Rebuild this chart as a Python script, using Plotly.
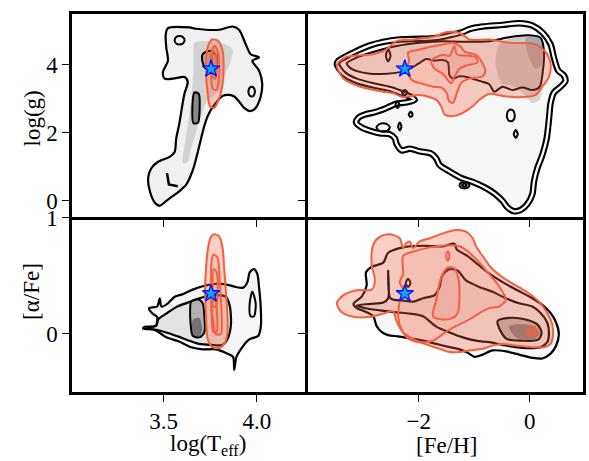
import plotly.graph_objects as go
from plotly.subplots import make_subplots

# ---------------- log(Teff) vs log(g) ----------------
TL_OUTER_X = [3.523, 3.638, 3.674, 3.798, 3.869, 3.904, 3.940, 3.966, 4.011, 3.975, 4.011, 4.028, 4.020, 3.993,
              3.966, 3.931, 3.904, 3.878, 3.851, 3.816, 3.780, 3.754, 3.736, 3.718, 3.700, 3.683, 3.665, 3.647,
              3.621, 3.585, 3.550, 3.514, 3.479, 3.452, 3.426, 3.417, 3.434, 3.470, 3.532, 3.559, 3.567, 3.585,
              3.599, 3.612, 3.629, 3.612, 3.550, 3.505, 3.496, 3.523, 3.514, 3.511]
TL_OUTER_Y = [5.074, 5.094, 5.055, 5.026, 5.122, 5.026, 4.595, 4.307, 4.211, 4.115, 3.827, 3.444, 3.060, 2.724,
              2.628, 2.724, 2.916, 3.060, 3.108, 3.079, 2.868, 2.676, 2.484, 2.197, 1.813, 1.429, 1.046, 0.758,
              0.470, 0.278, 0.134, -0.010, -0.154, -0.058, 0.278, 0.662, 0.950, 1.141, 1.285, 1.429, 1.813, 2.293,
              2.772, 3.156, 3.492, 3.635, 3.588, 3.588, 3.779, 4.115, 4.499, 4.882]
TL_INNER_X = [3.665, 3.745, 3.833, 3.869, 3.860, 3.833, 3.816, 3.762, 3.727, 3.700, 3.674, 3.647, 3.629, 3.603,
              3.612, 3.629, 3.642, 3.652, 3.660, 3.661]
TL_INNER_Y = [4.643, 4.691, 4.595, 4.451, 4.115, 3.731, 3.348, 3.060, 2.868, 2.484, 2.005, 1.525, 1.141, 1.094,
              1.621, 2.197, 2.772, 3.252, 3.923, 4.403]
TL_CLUMP_X = [3.665, 3.688, 3.693, 3.684, 3.660, 3.654]
TL_CLUMP_Y = [3.185, 3.137, 2.772, 2.293, 2.273, 2.772]
TL_CORE_X = [3.709, 3.754, 3.789, 3.780, 3.727, 3.709]
TL_CORE_Y = [4.307, 4.403, 4.211, 3.923, 3.875, 4.067]
TL_LOOP1_X = [3.559, 3.567, 3.585, 3.603, 3.612, 3.603, 3.585, 3.567]
TL_LOOP1_Y = [4.719, 4.815, 4.844, 4.815, 4.719, 4.623, 4.595, 4.623]
TL_LOOP2_X = [3.954, 3.961, 3.972, 3.982, 3.989, 3.982, 3.972, 3.961]
TL_LOOP2_Y = [3.204, 3.319, 3.348, 3.319, 3.204, 3.089, 3.060, 3.089]
TL_HOOK_X = [3.518, 3.528, 3.576]
TL_HOOK_Y = [0.806, 0.470, 0.422]
TL_RED1_X = [3.762, 3.794, 3.816, 3.821, 3.816, 3.798, 3.771, 3.748, 3.736, 3.727, 3.730, 3.741]
TL_RED1_Y = [4.739, 4.691, 4.403, 3.923, 3.444, 3.012, 2.724, 2.772, 3.156, 3.731, 4.307, 4.595]
TL_RED2_X = [3.771, 3.789, 3.798, 3.794, 3.780, 3.762, 3.754, 3.754]
TL_RED2_Y = [4.547, 4.403, 3.923, 3.444, 3.252, 3.300, 3.731, 4.307]
TL_RED3_X = [3.766, 3.780, 3.784, 3.777, 3.762, 3.759]
TL_RED3_Y = [4.403, 4.307, 3.827, 3.588, 3.635, 4.115]

# ---------------- [Fe/H] vs log(g) ----------------
TR_OUTER_X = [-3.476, -3.356, -3.117, -2.759, -2.490, -2.281, -2.131, -2.072, -2.221, -2.400, -2.579, -2.789,
              -2.968, -3.087, -3.129, -3.027, -2.878, -2.699, -2.532, -2.430, -2.400, -2.311, -2.161, -1.982,
              -1.773, -1.683, -1.624, -1.444, -1.235, -1.026, -0.817, -0.638, -0.489, -0.399, -0.280, -0.160,
              -0.041, 0.049, 0.079, 0.139, 0.228, 0.306, 0.348, 0.378, 0.437, 0.557, 0.646, 0.616, 0.515, 0.437,
              0.378, 0.240, 0.049, -0.190, -0.489, -0.847, -1.086, -1.205, -1.444, -1.683, -1.982, -2.341,
              -2.639, -2.878, -3.117, -3.326, -3.446]
TR_OUTER_Y = [4.019, 3.731, 3.520, 3.367, 3.271, 3.137, 3.041, 2.964, 2.887, 2.849, 2.724, 2.600, 2.532, 2.436,
              2.293, 2.149, 2.053, 1.976, 1.957, 1.832, 1.669, 1.477, 1.525, 1.448, 1.381, 1.237, 1.046, 0.854,
              0.662, 0.547, 0.393, 0.211, -0.010, -0.201, -0.317, -0.278, -0.106, 0.182, 0.566, 0.950, 1.333,
              1.813, 2.388, 2.868, 3.175, 3.348, 3.520, 3.683, 3.827, 4.211, 4.595, 4.930, 5.151, 5.218, 5.170,
              5.122, 5.046, 4.959, 4.863, 4.787, 4.758, 4.739, 4.671, 4.566, 4.403, 4.230, 4.115]
TR_BAND_X = [-3.296, -3.117, -2.759, -2.400, -1.982, -1.564, -1.205, -0.728, -0.369, -0.011, 0.198, 0.258, 0.240,
             0.180, 0.049, -0.130, -0.309, -0.489, -0.638, -0.728, -0.907, -1.086, -1.265, -1.385, -1.444, -1.474,
             -1.564, -1.713, -1.863, -2.012, -2.161, -2.341, -2.579, -2.878, -3.117, -3.237]
TR_BAND_Y = [4.038, 4.211, 4.403, 4.547, 4.643, 4.691, 4.671, 4.691, 4.806, 4.863, 4.787, 4.403, 3.827, 3.348,
             3.252, 3.329, 3.252, 3.348, 3.204, 3.424, 3.520, 3.616, 3.655, 3.588, 3.683, 4.067, 4.134, 4.115,
             4.163, 4.019, 3.875, 3.779, 3.731, 3.731, 3.808, 3.904]
TR_DARK_X = [-0.489, 0.109, 0.228, 0.240, 0.180, 0.049, -0.070, -0.250, -0.489, -0.608, -0.578]
TR_DARK_Y = [4.691, 4.835, 4.691, 3.731, 2.964, 2.868, 3.060, 3.348, 3.444, 3.923, 4.499]
TR_DARKEST_X = [-0.070, 0.198, 0.216, 0.109, -0.011]
TR_DARKEST_Y = [4.787, 4.739, 4.019, 3.875, 4.211]
TR_LOOPS = [
    ([-0.411, -0.387, -0.339, -0.292, -0.268, -0.292, -0.339, -0.387],
     [2.504, 2.638, 2.676, 2.638, 2.504, 2.369, 2.331, 2.369]),
    ([-0.286, -0.250, -0.214, -0.250], [1.957, 2.072, 1.957, 1.842]),
    ([-1.265, -1.235, -1.176, -1.116, -1.086, -1.116, -1.176, -1.235],
     [0.451, 0.528, 0.547, 0.528, 0.451, 0.374, 0.355, 0.374]),
    ([-1.220, -1.176, -1.132, -1.176], [0.451, 0.500, 0.451, 0.403]),
    ([-2.759, -2.711, -2.639, -2.567, -2.520, -2.567, -2.639, -2.711],
     [2.149, 2.245, 2.273, 2.245, 2.149, 2.053, 2.024, 2.053]),
    ([-2.370, -2.341, -2.311, -2.341], [2.177, 2.293, 2.177, 2.062]),
    ([-2.418, -2.382, -2.346, -2.382], [2.820, 2.916, 2.820, 2.724]),
    ([-2.179, -2.143, -2.108, -2.143], [2.532, 2.609, 2.532, 2.456]),
    ([-2.299, -2.251, -2.203, -2.251], [3.175, 3.252, 3.175, 3.098]),
    ([-2.591, -2.550, -2.508, -2.550], [4.259, 4.451, 4.259, 4.096]),
]
TR_RED1_X = [-3.476, -3.296, -2.818, -2.579, -2.400, -2.102, -1.683, -1.564, -1.325, -1.205, -1.086, -0.728,
             -0.369, 0.109, 0.318, 0.378, 0.348, 0.228, 0.109, -0.011, -0.250, -0.489, -0.728, -0.907, -1.026,
             -1.205, -1.385, -1.534, -1.594, -1.683, -1.982, -2.281, -2.460, -2.639, -3.057, -3.356]
TR_RED1_Y = [4.000, 4.230, 4.307, 4.451, 4.691, 4.739, 4.835, 4.930, 4.959, 4.882, 4.739, 4.739, 4.643, 4.595,
             4.307, 4.019, 3.635, 3.348, 3.108, 3.060, 3.041, 3.079, 3.137, 2.964, 2.772, 2.580, 2.484, 2.532,
             2.772, 2.964, 3.108, 3.041, 3.156, 3.204, 3.348, 3.588]
TR_RED2_X = [-2.191, -2.042, -1.803, -1.564, -1.385, -1.235, -1.176, -0.967, -0.877, -0.799, -0.847, -1.086,
             -1.235, -1.313, -1.385, -1.456, -1.492, -1.594, -1.743, -1.952, -2.102, -2.173, -2.209, -2.173]
TR_RED2_Y = [4.355, 4.422, 4.518, 4.595, 4.643, 4.518, 4.384, 4.288, 4.115, 3.827, 3.655, 3.588, 3.463, 3.156,
             2.868, 2.935, 3.156, 3.329, 3.348, 3.444, 3.520, 3.655, 3.875, 4.115]
TR_RED3_X = [-1.773, -1.564, -1.444, -1.355, -1.313, -1.086, -0.967, -0.937, -1.146, -1.265, -1.355, -1.415,
             -1.474, -1.564, -1.713]
TR_RED3_Y = [4.115, 4.288, 4.259, 4.547, 4.307, 4.259, 4.211, 4.067, 3.971, 3.875, 3.635, 3.444, 3.540, 3.731,
             3.875]

# ---------------- log(Teff) vs [alpha/Fe] ----------------
BL_OUTER_X = [3.390, 3.452, 3.514, 3.585, 3.647, 3.709, 3.780, 3.842, 3.872, 3.878, 3.890, 3.913, 3.957, 4.007,
              4.021, 4.020, 4.011, 4.002, 3.984, 3.961, 3.949, 3.926, 3.887, 3.855, 3.798, 3.754, 3.709, 3.656,
              3.603, 3.559, 3.523, 3.488, 3.479, 3.465, 3.422, 3.440, 3.465, 3.457, 3.399]
BL_OUTER_Y = [0.042, 0.031, -0.033, -0.071, -0.118, -0.137, -0.137, -0.174, -0.202, -0.314, -0.202, -0.137,
              -0.053, -0.019, 0.065, 0.233, 0.402, 0.514, 0.556, 0.528, 0.444, 0.396, 0.402, 0.416, 0.430, 0.424,
              0.408, 0.379, 0.340, 0.318, 0.261, 0.233, 0.304, 0.233, 0.219, 0.172, 0.144, 0.065, 0.059]
BL_MID_X = [3.411, 3.461, 3.470, 3.514, 3.567, 3.629, 3.691, 3.736, 3.789, 3.833, 3.855, 3.860, 3.842, 3.816,
            3.754, 3.691, 3.638, 3.576, 3.514, 3.461]
BL_MID_Y = [0.048, 0.070, 0.121, 0.172, 0.228, 0.267, 0.304, 0.323, 0.332, 0.318, 0.233, 0.065, -0.047, -0.098,
            -0.098, -0.090, -0.062, -0.025, 0.009, 0.031]
BL_LOBE_X = [3.961, 3.975, 3.993, 3.984, 3.966]
BL_LOBE_Y = [0.261, 0.360, 0.261, 0.149, 0.149]
BL_DARK_X = [3.647, 3.683, 3.709, 3.718, 3.718, 3.691, 3.656, 3.644, 3.642]
BL_DARK_Y = [0.275, 0.295, 0.261, 0.149, 0.009, -0.033, -0.019, 0.093, 0.205]
BL_CORE_X = [3.656, 3.691, 3.706, 3.691, 3.660]
BL_CORE_Y = [0.121, 0.135, 0.037, -0.025, -0.014]
BL_RED1_X = [3.771, 3.798, 3.816, 3.824, 3.833, 3.842, 3.842, 3.830, 3.798, 3.762, 3.736, 3.727, 3.722, 3.727,
             3.741, 3.754]
BL_RED1_Y = [0.857, 0.837, 0.739, 0.570, 0.374, 0.149, 0.009, -0.075, -0.126, -0.118, -0.047, 0.149, 0.346,
             0.570, 0.767, 0.837]
BL_RED2_X = [3.766, 3.789, 3.798, 3.807, 3.812, 3.807, 3.780, 3.766, 3.754, 3.754, 3.757]
BL_RED2_Y = [0.682, 0.654, 0.514, 0.290, 0.093, -0.005, -0.005, 0.093, 0.290, 0.514, 0.626]
BL_RED3_X = [3.768, 3.784, 3.789, 3.780, 3.766, 3.762]
BL_RED3_Y = [0.556, 0.528, 0.346, 0.233, 0.233, 0.374]
BL_RED4_X = [3.759, 3.777, 3.787, 3.784, 3.766, 3.757]
BL_RED4_Y = [0.275, 0.284, 0.149, 0.014, 0.014, 0.149]

# ---------------- [Fe/H] vs [alpha/Fe] ----------------
BR_OUTER_X = [-3.177, -3.027, -2.938, -2.950, -2.848, -2.639, -2.550, -2.281, -1.922, -1.564, -1.355, -1.313,
              -1.116, -0.937, -0.757, -0.489, -0.220, 0.049, 0.228, 0.378, 0.479, 0.527, 0.479, 0.378, 0.228,
              0.049, -0.190, -0.429, -0.668, -0.847, -0.996, -1.116, -1.265, -1.444, -1.683, -1.922, -2.161,
              -2.370, -2.550, -2.669, -2.759, -2.819, -2.968, -3.117]
BR_OUTER_Y = [0.256, 0.318, 0.416, 0.528, 0.576, 0.612, 0.697, 0.744, 0.758, 0.753, 0.775, 0.725, 0.669, 0.599,
              0.528, 0.444, 0.374, 0.304, 0.247, 0.177, 0.093, -0.005, -0.104, -0.174, -0.216, -0.210, -0.182,
              -0.154, -0.146, -0.182, -0.202, -0.166, -0.137, -0.118, -0.090, -0.062, -0.042, -0.025, -0.014,
              0.014, 0.065, 0.149, 0.191, 0.219]
BR_MID_X = [-3.117, -2.878, -2.639, -2.550, -2.550, -2.508, -2.281, -2.102, -1.922, -1.713, -1.624, -1.576,
            -1.444, -1.295, -1.146, -0.907, -0.668, -0.429, -0.190, 0.049, 0.198, 0.318, 0.348, 0.318, 0.198,
            -0.011, -0.250, -0.489, -0.728, -0.967, -1.205, -1.444, -1.683, -1.922, -2.161, -2.400, -2.699, -2.938]
BR_MID_Y = [0.242, 0.256, 0.267, 0.304, 0.542, 0.304, 0.284, 0.275, 0.304, 0.332, 0.402, 0.500, 0.556, 0.542,
            0.458, 0.402, 0.360, 0.304, 0.261, 0.233, 0.177, 0.093, -0.005, -0.075, -0.118, -0.126, -0.118,
            -0.098, -0.075, -0.062, -0.033, 0.009, 0.059, 0.149, 0.172, 0.183, 0.200, 0.216]
BR_CORE_X = [-0.578, -0.369, -0.070, 0.139, 0.216, 0.157, -0.130, -0.429]
BR_CORE_Y = [0.107, 0.135, 0.121, 0.079, 0.009, -0.053, -0.062, -0.042]
BR_DARKEST_X = [-0.369, 0.049, 0.180, 0.109, -0.250]
BR_DARKEST_Y = [0.065, 0.070, 0.009, -0.042, -0.033]
BR_LOOP_X = [-2.233, -2.191, -2.149, -2.191]
BR_LOOP_Y = [0.435, 0.472, 0.435, 0.402]
BR_RED1_X = [-3.476, -3.356, -3.117, -2.848, -2.789, -2.848, -2.818, -2.699, -2.520, -2.341, -2.281, -2.221,
             -2.161, -2.102, -1.982, -1.803, -1.564, -1.325, -1.146, -1.026, -0.967, -0.847, -0.698, -0.489,
             -0.250, -0.011, 0.168, 0.318, 0.407, 0.419, 0.378, 0.258, 0.049, -0.250, -0.489, -0.668, -0.847,
             -1.086, -1.265, -1.444, -1.624, -1.803, -2.042, -2.281, -2.400, -2.460, -2.639, -2.878, -3.177, -3.386]
BR_RED1_Y = [0.261, 0.332, 0.374, 0.379, 0.458, 0.598, 0.767, 0.837, 0.857, 0.823, 0.739, 0.781, 0.795, 0.739,
             0.795, 0.823, 0.865, 0.893, 0.879, 0.823, 0.753, 0.669, 0.570, 0.486, 0.416, 0.346, 0.275, 0.177,
             0.079, -0.019, -0.090, -0.118, -0.118, -0.104, -0.090, -0.104, -0.132, -0.146, -0.160, -0.160,
             -0.132, -0.104, -0.062, 0.009, 0.107, 0.191, 0.172, 0.144, 0.144, 0.183]
BR_RED2_X = [-2.281, -2.072, -1.803, -1.504, -1.265, -1.086, -0.907, -0.757, -0.608, -0.489, -0.429, -0.548,
             -0.728, -0.907, -1.086, -1.325, -1.564, -1.743, -1.982, -2.191, -2.311, -2.370, -2.341, -2.281,
             -2.341, -2.281]
BR_RED2_Y = [0.669, 0.711, 0.744, 0.761, 0.753, 0.697, 0.613, 0.528, 0.444, 0.360, 0.290, 0.233, 0.219, 0.177,
             0.121, 0.065, -0.005, -0.062, -0.075, -0.042, 0.037, 0.149, 0.275, 0.374, 0.444, 0.514]
BR_RED3_X = [-1.743, -1.683, -1.594, -1.474, -1.355, -1.277, -1.265, -1.295, -1.385, -1.564]
BR_RED3_Y = [0.149, 0.290, 0.486, 0.570, 0.562, 0.458, 0.318, 0.177, 0.135, 0.121]
BR_RED_LOOPS = [
    ([-1.504, -1.474, -1.444, -1.474], [0.669, 0.711, 0.669, 0.626]),
    ([-0.035, -0.011, 0.013, -0.011], [0.014, 0.051, 0.014, -0.019]),
    ([0.073, 0.097, 0.121, 0.097], [0.023, 0.059, 0.023, -0.014]),
]

# reference star
STAR_TEFF = 3.754
STAR_LOGG = 3.875
STAR_FEH = -2.25
STAR_ALPHA = 0.345

RED = "#f4603f"
RED_FILL = "rgba(245,100,70,0.30)"
RED_FILL_IN = "rgba(245,100,70,0.10)"
FONT = "Liberation Serif"

fig = make_subplots(rows=2, cols=2, column_widths=[237.5, 276.5], row_heights=[208, 179.5],
                    horizontal_spacing=0, vertical_spacing=0)


def closed(v):
    return list(v) + [v[0]]


def poly(x, y, row, col, color="black", width=2.0, fill=None, smooth=0.8):
    fig.add_trace(go.Scatter(
        x=closed(x), y=closed(y), mode="lines",
        line=dict(color=color, width=width, shape="spline", smoothing=smooth),
        fill="toself" if fill else None, fillcolor=fill,
        hoverinfo="skip", showlegend=False), row=row, col=col)


def path(x, y, row, col, color="black", width=2.0):
    fig.add_trace(go.Scatter(x=x, y=y, mode="lines", line=dict(color=color, width=width),
                             hoverinfo="skip", showlegend=False), row=row, col=col)


def star(x, y, row, col):
    fig.add_trace(go.Scatter(x=[x], y=[y], mode="markers",
                             marker=dict(symbol="star", size=13, color="#12a6ff",
                                         line=dict(color="#0010ff", width=1.3)),
                             hoverinfo="skip", showlegend=False), row=row, col=col)


# top left
poly(TL_OUTER_X, TL_OUTER_Y, 1, 1, fill="rgba(0,0,0,0.06)", width=2.2)
poly(TL_INNER_X, TL_INNER_Y, 1, 1, fill="rgba(0,0,0,0.12)", color="rgba(0,0,0,0.0)", width=0.1)
poly(TL_CLUMP_X, TL_CLUMP_Y, 1, 1, fill="rgba(0,0,0,0.35)", width=2.0)
poly(TL_CORE_X, TL_CORE_Y, 1, 1, fill="rgba(0,0,0,0.18)", width=2.0)
poly(TL_LOOP1_X, TL_LOOP1_Y, 1, 1, width=2.0)
poly(TL_LOOP2_X, TL_LOOP2_Y, 1, 1, width=2.0)
path(TL_HOOK_X, TL_HOOK_Y, 1, 1, width=2.5)
poly(TL_RED1_X, TL_RED1_Y, 1, 1, color=RED, fill=RED_FILL, width=2.0)
poly(TL_RED2_X, TL_RED2_Y, 1, 1, color=RED, fill=RED_FILL_IN, width=2.0)
poly(TL_RED3_X, TL_RED3_Y, 1, 1, color=RED, fill=RED_FILL_IN, width=2.0)
star(STAR_TEFF, STAR_LOGG, 1, 1)

# top right
poly(TR_OUTER_X, TR_OUTER_Y, 1, 2, fill="rgba(0,0,0,0.03)", width=6.5)
poly(TR_OUTER_X, TR_OUTER_Y, 1, 2, color="white", width=2.3)
poly(TR_BAND_X, TR_BAND_Y, 1, 2, fill="rgba(0,0,0,0.05)", width=2.0)
poly(TR_DARK_X, TR_DARK_Y, 1, 2, fill="rgba(0,0,0,0.14)", color="rgba(0,0,0,0)", width=0.1)
poly(TR_DARKEST_X, TR_DARKEST_Y, 1, 2, fill="rgba(0,0,0,0.16)", color="rgba(0,0,0,0)", width=0.1)
for lx, ly in TR_LOOPS:
    poly(lx, ly, 1, 2, width=2.0)
poly(TR_RED1_X, TR_RED1_Y, 1, 2, color=RED, fill=RED_FILL, width=2.0)
poly(TR_RED2_X, TR_RED2_Y, 1, 2, color=RED, fill=RED_FILL_IN, width=2.0)
poly(TR_RED3_X, TR_RED3_Y, 1, 2, color=RED, fill=RED_FILL_IN, width=2.0)
star(STAR_FEH, STAR_LOGG, 1, 2)

# bottom left
poly(BL_OUTER_X, BL_OUTER_Y, 2, 1, fill="rgba(0,0,0,0.04)", width=2.2)
poly(BL_MID_X, BL_MID_Y, 2, 1, fill="rgba(0,0,0,0.07)", width=2.2)
poly(BL_LOBE_X, BL_LOBE_Y, 2, 1, width=2.0)
poly(BL_DARK_X, BL_DARK_Y, 2, 1, fill="rgba(0,0,0,0.22)", width=2.0)
poly(BL_CORE_X, BL_CORE_Y, 2, 1, fill="rgba(0,0,0,0.35)", color="rgba(0,0,0,0)", width=0.1)
poly(BL_RED1_X, BL_RED1_Y, 2, 1, color=RED, fill=RED_FILL, width=2.0)
poly(BL_RED2_X, BL_RED2_Y, 2, 1, color=RED, fill=RED_FILL_IN, width=2.0)
poly(BL_RED3_X, BL_RED3_Y, 2, 1, color=RED, fill=RED_FILL_IN, width=2.0)
poly(BL_RED4_X, BL_RED4_Y, 2, 1, color=RED, fill=RED_FILL_IN, width=2.0)
star(STAR_TEFF, STAR_ALPHA, 2, 1)

# bottom right
poly(BR_OUTER_X, BR_OUTER_Y, 2, 2, fill="rgba(0,0,0,0.03)", width=2.2)
poly(BR_MID_X, BR_MID_Y, 2, 2, fill="rgba(0,0,0,0.04)", width=2.2)
poly(BR_CORE_X, BR_CORE_Y, 2, 2, fill="rgba(0,0,0,0.22)", width=2.2)
poly(BR_DARKEST_X, BR_DARKEST_Y, 2, 2, fill="rgba(0,0,0,0.30)", color="rgba(0,0,0,0)", width=0.1)
poly(BR_LOOP_X, BR_LOOP_Y, 2, 2, width=2.0)
poly(BR_RED1_X, BR_RED1_Y, 2, 2, color=RED, fill=RED_FILL, width=2.0)
poly(BR_RED2_X, BR_RED2_Y, 2, 2, color=RED, fill=RED_FILL_IN, width=2.0)
poly(BR_RED3_X, BR_RED3_Y, 2, 2, color=RED, fill=RED_FILL_IN, width=2.0)
for lx, ly in BR_RED_LOOPS:
    poly(lx, ly, 2, 2, color=RED, width=2.0)
star(STAR_FEH, STAR_ALPHA, 2, 2)

axis_style = dict(showline=True, linecolor="black", linewidth=2.5,
                  ticks="outside", ticklen=7, tickwidth=1.2, tickcolor="black",
                  showgrid=False, zeroline=False,
                  tickfont=dict(family=FONT, size=23, color="black"))

TEFF_RANGE = [3.009, 4.274]
FEH_RANGE = [-3.993, 0.962]
LOGG_RANGE = [-0.483, 5.49]
ALPHA_RANGE = [-0.505, 1.007]

fig.update_xaxes(axis_style)
fig.update_yaxes(axis_style)
# shared inner borders are drawn once: top row x lines + mirrored top, right column y lines + mirrored right
for r in (1, 2):
    fig.update_xaxes(range=TEFF_RANGE, tickvals=[3.5, 4.0], ticktext=["3.5", "4.0"],
                     showticklabels=(r == 2), mirror=(r == 1), row=r, col=1)
    fig.update_xaxes(range=FEH_RANGE, tickvals=[-2, 0], ticktext=["\u22122", "0"],
                     showticklabels=(r == 2), mirror=(r == 1), row=r, col=2)
for c in (1, 2):
    fig.update_yaxes(range=LOGG_RANGE, tickvals=[0, 2, 4], ticktext=["0", "2", "4"],
                     showticklabels=(c == 1), mirror=(c == 2), row=1, col=c)
    fig.update_yaxes(range=ALPHA_RANGE, tickvals=[0, 1], ticktext=["0", "1"],
                     showticklabels=(c == 1), mirror=(c == 2), row=2, col=c)

title_font = dict(family=FONT, size=23, color="black")
fig.update_layout(
    width=589, height=461,
    margin=dict(l=72, r=3, t=5, b=68.5),
    plot_bgcolor="white", paper_bgcolor="white",
    annotations=[
        dict(text="log(T<sub>eff</sub>)", x=0.2665, y=-0.141, xref="paper", yref="paper",
             showarrow=False, font=title_font, xanchor="center", yanchor="middle"),
        dict(text="[Fe/H]", x=0.733, y=-0.141, xref="paper", yref="paper",
             showarrow=False, font=title_font, xanchor="center", yanchor="middle"),
        dict(text="log(g)", x=-0.078, y=0.724, xref="paper", yref="paper", textangle=-90,
             showarrow=False, font=title_font, xanchor="center", yanchor="middle"),
        dict(text="[\u03b1/Fe]", x=-0.078, y=0.265, xref="paper", yref="paper", textangle=-90,
             showarrow=False, font=title_font, xanchor="center", yanchor="middle"),
    ],
)

fig.write_html("out.html")
